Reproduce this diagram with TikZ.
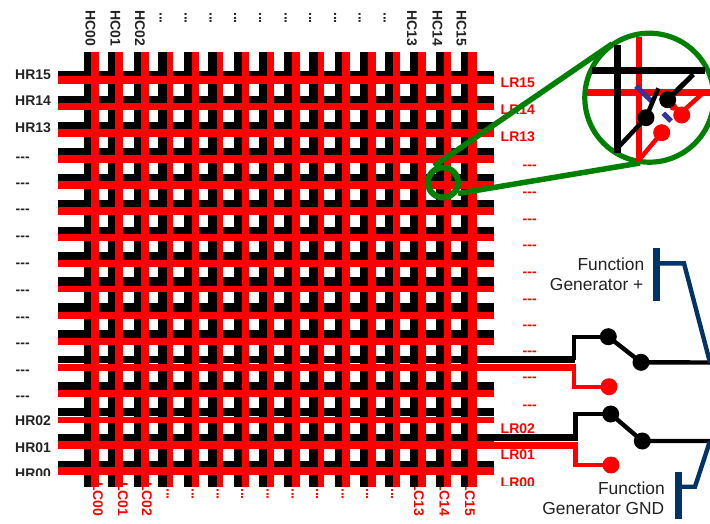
\documentclass[tikz,border=0pt]{standalone}
\usepackage{fontspec}
\setmainfont{Liberation Sans}
\definecolor{gridred}{RGB}{255,0,0}
\definecolor{zoomgreen}{RGB}{0,128,0}
\definecolor{fgblue}{RGB}{0,51,102}
\definecolor{capblue}{RGB}{51,51,153}
\definecolor{inktext}{RGB}{34,34,34}
\tikzset{
  lab/.style={inner sep=0pt,anchor=base west,font=\bfseries\fontsize{14}{16}\selectfont,text=inktext},
  redlab/.style={lab,text=gridred},
  vlab/.style={lab,rotate=-90},
  vredlab/.style={redlab,rotate=-90},
  fglab/.style={inner sep=0pt,anchor=base east,font=\fontsize{17.4}{20}\selectfont,text=inktext},
  bwire/.style={draw=black,line width=4.4pt,line join=miter},
  rwire/.style={draw=gridred,line width=4.4pt,line join=miter},
  bdot/.style={circle,fill=black,inner sep=0pt,minimum size=17pt},
  rdot/.style={circle,fill=gridred,inner sep=0pt,minimum size=17pt},
  fgwire/.style={draw=fgblue,line width=4.4pt,line join=miter},
  fgbar/.style={draw=fgblue,line width=6.7pt},
  zoomline/.style={draw=zoomgreen,line width=5.5pt}
}
\begin{document}
\begin{tikzpicture}[x=1pt,y=-1pt]
\useasboundingbox (0,0) rectangle (710,523);
\clip (0,0) rectangle (710,523);

% column labels, top
\foreach \tx/\cx in {HC00/85.5,HC01/110.5,HC02/135,HC13/407,HC14/432.5,HC15/456.5}
  \node[vlab] (t\tx) at (\cx,10) {\tx};
\foreach \cx [count=\i] in {159.5,184.5,209.5,234,259,284.5,309,334,358.5,383.5}
  \node[vlab] (tdots\i) at (\cx,12) {...};
% column labels, bottom (they start under the grid)
\foreach \tx/\cx in {LC00/93,LC01/118,LC02/142,LC13/414,LC14/439.5,LC15/465}
  \node[vredlab] (b\tx) at (\cx,482) {\tx};
\foreach \cx [count=\i] in {166.5,191.5,216.5,241,266.5,291.5,316,341.5,366,391}
  \node[vredlab] (bdots\i) at (\cx,488) {...};

% rows: black top, black bottom, red top, red bottom
\foreach \ra/\rb/\rc/\rd in {70.7/76/76/84.3,95.7/102.7/102.7/110.3,121.7/129/129/136.7,148.3/155/155/163,
  174.3/181.3/181.3/189,200.3/207.3/207.3/215.3,226.7/233.7/233.7/241.3,252.3/259.7/259.7/267.3,
  277.3/285.7/285.7/292.3,303.3/312/312/318.7,330/338.3/338.3/344.7,356/363.2/364/371,
  382/389.6/390.3/397.3,408.3/416/416.7/423.3,434.3/441.3/441.3/449.3,460.7/467.3/467.3/475.3}
  \fill[black] (57.7,\ra) rectangle (494.3,\rb);
% columns: black left, black/red boundary, red right
\foreach \ca/\cb/\cc in {83.5/90.5/98.6,108/115/123,134/141/149,158/166.7/173,184.3/191.7/199,208/216.7/223,
  234.3/241.7/249,259/267.3/274,284.3/291.7/299.7,309/317.7/324,335/342/350,359.7/367.7/375.7,
  385/393/400,410/418/426,435.5/443.5/451,461/468/476.7}
  \fill[black] (\ca,52) rectangle (\cb,487);
\foreach \ca/\cb/\cc in {83.5/90.5/98.6,108/115/123,134/141/149,158/166.7/173,184.3/191.7/199,208/216.7/223,
  234.3/241.7/249,259/267.3/274,284.3/291.7/299.7,309/317.7/324,335/342/350,359.7/367.7/375.7,
  385/393/400,410/418/426,435.5/443.5/451,461/468/476.7}
  \fill[gridred] (\cb,52) rectangle (\cc,487);
\foreach \ra/\rb/\rc/\rd in {70.7/76/76/84.3,95.7/102.7/102.7/110.3,121.7/129/129/136.7,148.3/155/155/163,
  174.3/181.3/181.3/189,200.3/207.3/207.3/215.3,226.7/233.7/233.7/241.3,252.3/259.7/259.7/267.3,
  277.3/285.7/285.7/292.3,303.3/312/312/318.7,330/338.3/338.3/344.7,356/363.2/364/371,
  382/389.6/390.3/397.3,408.3/416/416.7/423.3,434.3/441.3/441.3/449.3,460.7/467.3/467.3/475.3}
  \fill[gridred] (57.7,\rc) rectangle (494.3,\rd);

% row labels, left
\node[lab] (hr15) at (15,79.5) {HR15};
\node[lab] (hr14) at (15,105.7) {HR14};
\node[lab] (hr13) at (15,132.7) {HR13};
\foreach \yy [count=\i] in {161,187,213,240,267,294,321,347,374,400}
  \node[lab] (hd\i) at (15.5,\yy) {{-}{-}{-}};
\node[lab] (hr02) at (15,425) {HR02};
\node[lab] (hr01) at (15,452.3) {HR01};
\begin{scope}
  \clip (0,460) rectangle (57,475.3);
  \node[lab] (hr00) at (15,478.7) {HR00};
\end{scope}
% row labels, right
\node[redlab] (lr15) at (500.5,87.7) {LR15};
\node[redlab] (lr14) at (500.5,114) {LR14};
\node[redlab] (lr13) at (500.5,141) {LR13};
\foreach \yy [count=\i] in {169.5,196,223.5,249.5,276,303.5,329.5,355.5,381.5,409.5}
  \node[redlab] (ld\i) at (522.5,\yy) {{-}{-}{-}};
\node[redlab] (lr02) at (500.5,433) {LR02};
\node[redlab] (lr01) at (500.5,459) {LR01};
\begin{scope}
  \clip (495,470) rectangle (560,485);
  \node[redlab] (lr00) at (500.5,487) {LR00};
\end{scope}

% upper switch
\coordinate (rowA) at (494,359.6);
\coordinate (rowAr) at (494,367.5);
\coordinate (endA) at (710,362.5);
\node[bdot] (a1) at (608.3,336.7) {};
\node[bdot] (a2) at (641,362.3) {};
\node[rdot] (a3) at (609,386.7) {};
\draw[black,line width=7.2pt] (rowA) -- (575,359.6);
\draw[gridred,line width=7pt] (rowAr) -- (575.7,367.5);
\draw[bwire] (573.7,359.6) |- (a1.center);
\draw[bwire] (a1.center) -- (a2.center) -- (endA);
\draw[rwire] (574,367.5) |- (a3.center);
% lower switch
\coordinate (rowB) at (494,437.9);
\coordinate (rowBr) at (494,445);
\coordinate (endB) at (710,441);
\node[bdot] (b1) at (610.7,414) {};
\node[bdot] (b2) at (642.3,441) {};
\node[rdot] (b3) at (611,465) {};
\draw[black,line width=7pt] (rowB) -- (578,437.9);
\draw[gridred,line width=7pt] (rowBr) -- (578,445);
\draw[bwire] (575.5,437.9) |- (b1.center);
\draw[bwire] (b1.center) -- (b2.center) -- (endB);
\draw[rwire] (575.5,445) |- (b3.center);

% function generator terminals
\coordinate (barAt) at (656.7,248);
\coordinate (barAb) at (656.7,300.7);
\coordinate (barBt) at (678.3,471.7);
\coordinate (barBb) at (678.3,519);
\draw[fgbar] (barAt) -- (barAb);
\draw[fgbar] (barBt) -- (barBb);
\draw[fgwire] (656.7,263.3) -- (684,263.3) -- (endA);
\draw[fgwire] (678.3,486.7) -- (695,486.7) -- (endB);
\node[fglab] (fa1) at (644.5,270.7) {Function};
\node[fglab] (fa2) at (643.5,290.7) {Generator +};
\node[fglab] (fb1) at (665,494) {Function};
\node[fglab] (fb2) at (664.5,514) {Generator GND};

% magnifier
\node[circle,draw=zoomgreen,line width=6pt,minimum size=30pt,inner sep=0pt] (lens) at (443,182.5) {};
\node[circle,draw=zoomgreen,fill=white,line width=5.2pt,minimum size=129pt,inner sep=0pt] (view) at (649.3,97.7) {};
\coordinate (lensT) at (434,166);
\coordinate (lensB) at (458,193.5);
\coordinate (viewT) at (612,44);
\coordinate (viewB) at (640,163);
\draw[zoomline] (lensT) -- (viewT);
\draw[zoomline] (lensB) -- (viewB);

% magnified crossing
\draw[gridred,line width=6.7pt] (639,36.7) -- (639,162);
\draw[gridred,line width=7pt] (586.7,92.7) -- (710,92.7);
\draw[gridred,line width=4.5pt] (639,160) -- (661.7,132.7);
\draw[gridred,line width=4.5pt] (673.3,106.7) -- (682,112) -- (703,93);
\node[rdot] (v1) at (661.7,132.7) {};
\node[rdot] (v2) at (681.7,115) {};
\fill[gridred] (673.3,106.7) circle (4pt);
\draw[capblue,line width=5pt] (636,86) -- (652.7,102.3);
\draw[capblue,line width=5pt] (663.3,113.3) -- (671,121);
\draw[black,line width=7pt] (591.7,70.8) -- (705,70.8);
\draw[black,line width=6.7pt] (617.3,45) -- (617.3,153);
\node[bdot] (v3) at (646,117.7) {};
\node[bdot] (v4) at (667.7,99.7) {};
\draw[black,line width=4.5pt] (617.3,148.3) -- (v3.center) -- (658.3,88.3);
\draw[black,line width=5pt] (v4.center) -- (693.3,74.3);
\end{tikzpicture}
\end{document}
